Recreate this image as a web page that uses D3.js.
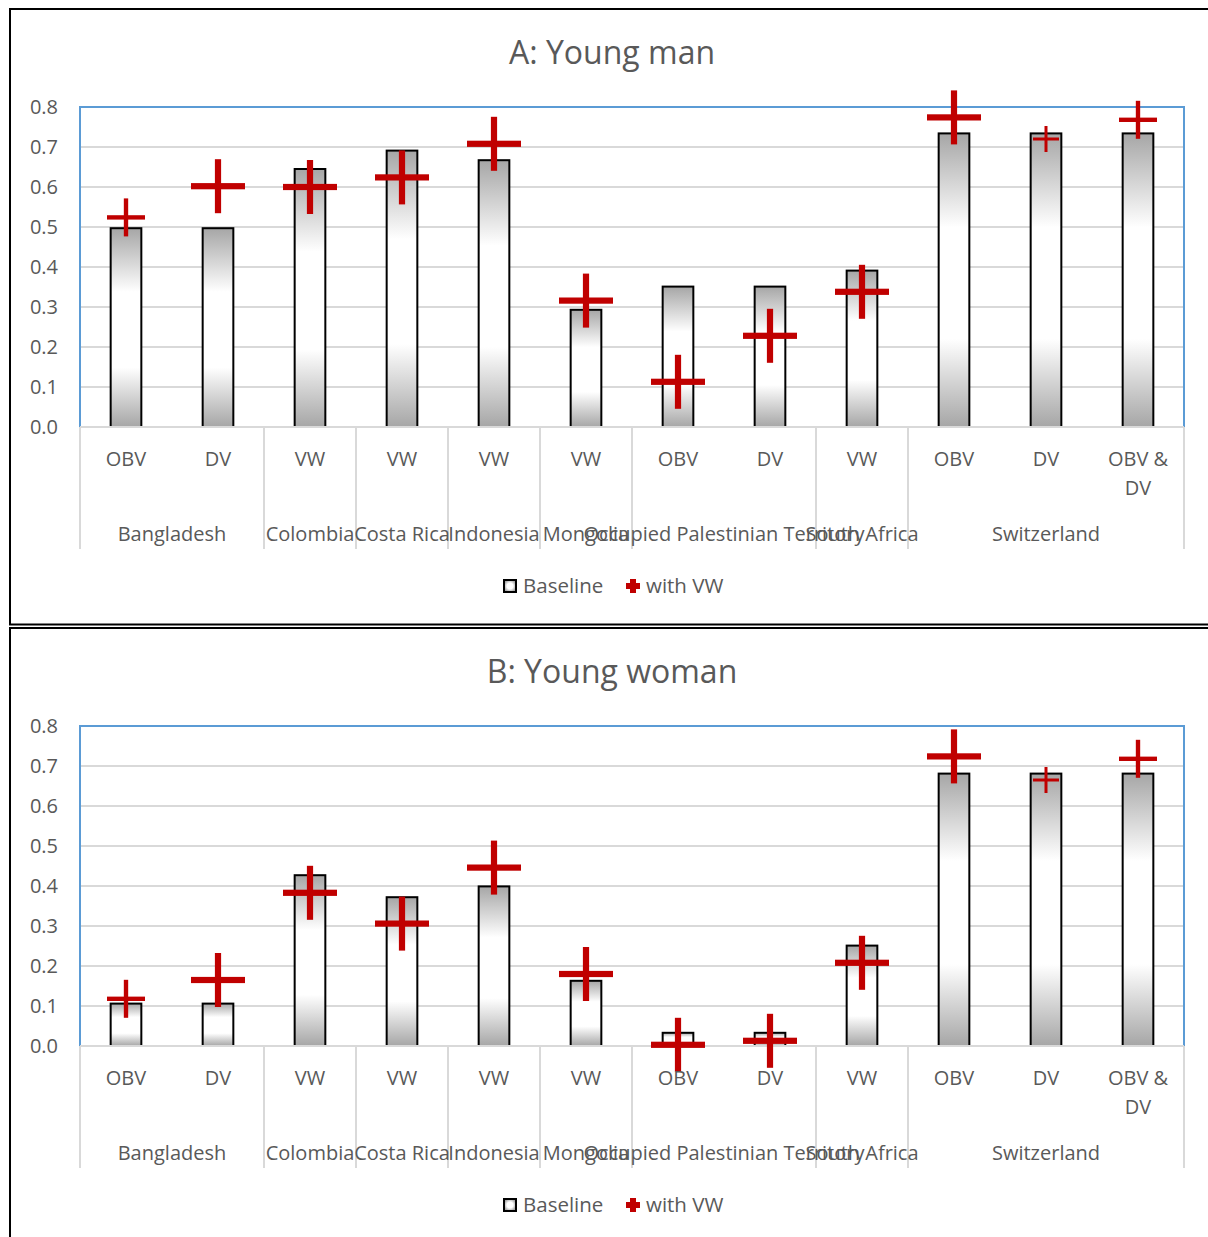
<!DOCTYPE html>
<html>
<head>
<meta charset="utf-8">
<script src="https://cdn.jsdelivr.net/npm/d3@7"></script>
<style>
  html, body { margin: 0; padding: 0; background: #fff; }
  svg { display: block; }
  text { font-family: "Open Sans", "Noto Sans", sans-serif; fill: #595959; }
</style>
</head>
<body>
<svg id="chart" width="1208" height="1237"></svg>
<script>
// Outcome labels (inner axis level) and country groups (outer axis level)
const categories = ["OBV", "DV", "VW", "VW", "VW", "VW", "OBV", "DV", "VW", "OBV", "DV", "OBV & DV"];
const countries = ["Bangladesh", "Bangladesh", "Colombia", "Costa Rica", "Indonesia", "Mongolia",
  "Occupied Palestinian Territory", "Occupied Palestinian Territory", "South Africa",
  "Switzerland", "Switzerland", "Switzerland"];

// Panel A: young man
const baselineMan = [0.497, 0.497, 0.645, 0.691, 0.667, 0.293, 0.351, 0.351, 0.391, 0.734, 0.734, 0.734];
const withVWMan   = [0.524, 0.602, 0.600, 0.624, 0.708, 0.316, 0.113, 0.228, 0.338, 0.774, 0.720, 0.768];

// Panel B: young woman
const baselineWoman = [0.106, 0.106, 0.427, 0.372, 0.399, 0.163, 0.033, 0.033, 0.251, 0.681, 0.681, 0.681];
const withVWWoman   = [0.118, 0.165, 0.383, 0.306, 0.446, 0.180, 0.003, 0.013, 0.208, 0.724, 0.665, 0.718];

const yTicks = [0, 0.1, 0.2, 0.3, 0.4, 0.5, 0.6, 0.7, 0.8];
const seriesNames = ["Baseline", "with VW"];

// Marker size (px) of the cross drawn for each point
const crossSize = [38, 54, 54, 54, 54, 54, 54, 54, 54, 54, 26, 38];

const panels = [
  { title: "A: Young man", baseline: baselineMan, withVW: withVWMan, top: 0 },
  { title: "B: Young woman", baseline: baselineWoman, withVW: withVWWoman, top: 619 }
];

const svg = d3.select("#chart");
const RED = "#c00000";

// Bar fill: grey at the ends, white through the middle
const defs = svg.append("defs");
const grad = defs.append("linearGradient").attr("id", "barFill")
  .attr("x1", 0).attr("y1", 0).attr("x2", 0).attr("y2", 1);
[[0, "#a6a6a6"], [0.32, "#ffffff"], [0.7, "#ffffff"], [1, "#a6a6a6"]].forEach(([o, c]) =>
  grad.append("stop").attr("offset", o).attr("stop-color", c));
const lgrad = defs.append("radialGradient").attr("id", "legendFill");
[[0, "#ffffff"], [0.5, "#ffffff"], [1, "#a6a6a6"]].forEach(([o, c]) =>
  lgrad.append("stop").attr("offset", o).attr("stop-color", c));

const plotLeft = 80, plotRight = 1184, plotTop = 107, plotBottom = 427;

const x = d3.scaleBand().domain(d3.range(categories.length)).range([plotLeft, plotRight]);
const y = d3.scaleLinear().domain([0, 0.8]).range([plotBottom, plotTop]);
const barW = x.bandwidth() / 3;

// Panel frames
svg.append("rect").attr("x", 10).attr("y", 9).attr("width", 1210).attr("height", 615.5)
  .attr("fill", "none").attr("stroke", "#000").attr("stroke-width", 2);
svg.append("rect").attr("x", 10).attr("y", 628).attr("width", 1210).attr("height", 640)
  .attr("fill", "none").attr("stroke", "#000").attr("stroke-width", 2);

// Group boundaries along the category axis
const bounds = [0];
countries.forEach((c, i) => { if (i > 0 && c !== countries[i - 1]) bounds.push(i); });
bounds.push(countries.length);
const groups = [];
for (let k = 0; k < bounds.length - 1; k++) groups.push({ name: countries[bounds[k]], a: bounds[k], b: bounds[k + 1] });
const edgeX = i => (i >= categories.length ? plotRight : x(i));

function drawCross(g, cx, cy, s) {
  const t = s * 0.115;
  g.append("rect").attr("x", cx - s / 2).attr("y", cy - t / 2).attr("width", s).attr("height", t).attr("fill", RED);
  g.append("rect").attr("x", cx - t / 2).attr("y", cy - s / 2).attr("width", t).attr("height", s).attr("fill", RED);
}

panels.forEach(p => {
  const g = svg.append("g").attr("transform", `translate(0,${p.top})`);

  g.append("text").attr("x", 612).attr("y", 64).attr("text-anchor", "middle")
    .style("font-size", "32px").text(p.title);

  // Gridlines
  g.selectAll("line.grid").data(yTicks.filter(v => v > 0 && v < 0.8)).join("line")
    .attr("x1", plotLeft).attr("x2", plotRight).attr("y1", d => y(d)).attr("y2", d => y(d))
    .attr("stroke", "#d9d9d9").attr("stroke-width", 2);

  // Value axis labels
  const yAxis = d3.axisLeft(y).tickValues(yTicks).tickFormat(d3.format(".1f")).tickSize(0).tickPadding(22);
  const ya = g.append("g").attr("transform", `translate(${plotLeft},0)`).call(yAxis);
  ya.select(".domain").remove();
  ya.selectAll("text").style("font-size", "20px").attr("fill", "#595959").attr("dy", "0.34em");

  // Baseline bars
  g.selectAll("rect.bar").data(p.baseline).join("rect")
    .attr("x", (d, i) => x(i) + (x.bandwidth() - barW) / 2)
    .attr("y", d => y(d)).attr("width", barW).attr("height", d => y(0) - y(d))
    .attr("fill", "url(#barFill)").attr("stroke", "#000").attr("stroke-width", 2);

  // Plot area border and category axis line
  g.append("rect").attr("x", plotLeft).attr("y", plotTop).attr("width", plotRight - plotLeft)
    .attr("height", plotBottom - plotTop).attr("fill", "none").attr("stroke", "#5b9bd5").attr("stroke-width", 2);
  g.append("line").attr("x1", plotLeft).attr("x2", plotRight).attr("y1", plotBottom).attr("y2", plotBottom)
    .attr("stroke", "#d9d9d9").attr("stroke-width", 2);

  // "with VW" markers
  const mg = g.append("g");
  p.withVW.forEach((v, i) => drawCross(mg, x(i) + x.bandwidth() / 2, y(v), crossSize[i]));

  // Category axis: separators between groups
  g.selectAll("line.sep").data(bounds).join("line")
    .attr("x1", d => edgeX(d)).attr("x2", d => edgeX(d))
    .attr("y1", plotBottom).attr("y2", 549)
    .attr("stroke", "#d9d9d9").attr("stroke-width", 2);

  // Inner labels
  categories.forEach((c, i) => {
    const cx = x(i) + x.bandwidth() / 2;
    const lines = c === "OBV & DV" ? ["OBV &", "DV"] : [c];
    lines.forEach((ln, k) => g.append("text").attr("x", cx).attr("y", 466 + k * 29)
      .attr("text-anchor", "middle").style("font-size", "20px").text(ln));
  });

  // Outer labels
  groups.forEach(gr => {
    const cx = (edgeX(gr.a) + edgeX(gr.b)) / 2;
    g.append("text").attr("x", cx).attr("y", 541).attr("text-anchor", "middle")
      .style("font-size", "20px").text(gr.name);
  });

  // Legend
  const lg = g.append("g");
  lg.append("rect").attr("x", 504).attr("y", 580).attr("width", 12).attr("height", 12)
    .attr("fill", "url(#legendFill)").attr("stroke", "#000").attr("stroke-width", 2);
  lg.append("text").attr("x", 523).attr("y", 593).style("font-size", "20.5px").text(seriesNames[0]);
  lg.append("rect").attr("x", 626).attr("y", 583).attr("width", 14).attr("height", 6).attr("fill", RED);
  lg.append("rect").attr("x", 630).attr("y", 579).attr("width", 6).attr("height", 14).attr("fill", RED);
  lg.append("text").attr("x", 646).attr("y", 593).style("font-size", "20.5px").text(seriesNames[1]);
});
</script>
</body>
</html>
